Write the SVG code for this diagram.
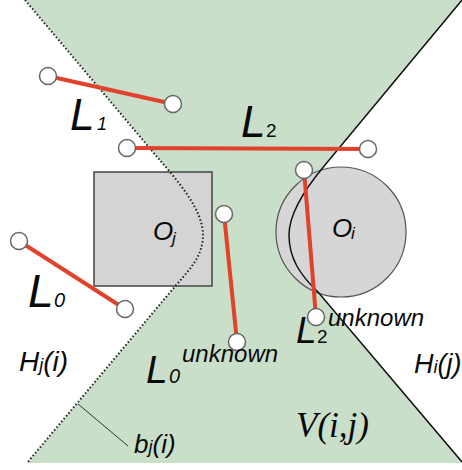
<svg xmlns="http://www.w3.org/2000/svg" width="462" height="470" viewBox="0 0 462 470">
<defs>
<style>
.red{stroke:#e0422c;stroke-width:4;stroke-linecap:round;fill:none}
.pt{fill:#fff;stroke:#666;stroke-width:1.5}
.t{font-family:"Liberation Sans",Arial,sans-serif;font-style:italic;fill:#0a0a0a}
.u{font-family:"Liberation Sans",Arial,sans-serif;fill:#0a0a0a}
.s{font-family:"Liberation Serif","Times New Roman",serif;font-style:italic;fill:#0a0a0a}
</style>
</defs>
<rect width="462" height="470" fill="#fff"/>
<g id="region">
<path d="M25,0 L158,158 C178,181 203,210 203,235 C203,258 187,272 172,290 L27,463 L462,463 L462,462 L318,292 C300,275 289,258 289,235 C289,212 309,184 325,165 L462,0 Z" fill="#cadfc9"/>
</g>
<g id="Oj">
<rect x="94" y="172" width="118" height="114" fill="#d4d4d4" stroke="#444" stroke-width="1.5"/>
<text class="t" x="153" y="240" font-size="26">O</text><text class="t" x="172" y="244" font-size="17">j</text>
</g>
<g id="Oi">
<circle cx="341" cy="232" r="65" fill="#d6d6d6" stroke="#555" stroke-width="1.2"/>
<text class="t" x="332" y="237" font-size="26">O</text><text class="t" x="351" y="239" font-size="17">i</text>
</g>
<g id="boundaries">
<path d="M25,0 L158,158 C178,181 203,210 203,235 C203,258 187,272 172,290 L27,463" fill="none" stroke="#222" stroke-width="2" stroke-dasharray="1.5 2.2"/>
<path d="M462,0 L325,165 C309,184 289,212 289,235 C289,258 300,275 318,292 L462,462" fill="none" stroke="#111" stroke-width="1.5"/>
<line x1="78" y1="404" x2="128" y2="446" stroke="#333" stroke-width="1"/>
</g>
<g id="connectors">
<line class="red" x1="48" y1="76" x2="173" y2="104"/>
<line class="red" x1="127" y1="148" x2="368" y2="149"/>
<line class="red" x1="19" y1="241" x2="125" y2="309"/>
<line class="red" x1="224" y1="214" x2="237" y2="342"/>
<line class="red" x1="304" y1="170" x2="316" y2="317"/>
</g>
<g id="points">
<circle class="pt" cx="48" cy="76" r="8.5"/>
<circle class="pt" cx="173" cy="104" r="8.5"/>
<circle class="pt" cx="127" cy="148" r="8.5"/>
<circle class="pt" cx="368" cy="149" r="8.5"/>
<circle class="pt" cx="19" cy="241" r="8.5"/>
<circle class="pt" cx="125" cy="309" r="8.5"/>
<circle class="pt" cx="224" cy="214" r="8.5"/>
<circle class="pt" cx="237" cy="342" r="8.5"/>
<circle class="pt" cx="304" cy="170" r="8.5"/>
<circle class="pt" cx="316" cy="317" r="8.5"/>
</g>
<g id="L1"><text class="t" x="70" y="130" font-size="44">L</text><text class="t" x="97" y="130" font-size="18">1</text></g>
<g id="L2"><text class="t" x="241" y="137" font-size="44">L</text><text class="u" x="266" y="137" font-size="19">2</text></g>
<g id="L0"><text class="t" x="28" y="307" font-size="46">L</text><text class="t" x="54" y="307" font-size="20">0</text></g>
<g id="L0u"><text class="t" x="146" y="383" font-size="39">L</text><text class="t" x="169" y="383" font-size="20">0</text><text class="t" x="182" y="362" font-size="24">unknown</text></g>
<g id="L2u"><text class="t" x="296" y="343" font-size="37">L</text><text class="u" x="317" y="343" font-size="19">2</text><text class="t" x="328" y="326" font-size="24">unknown</text></g>
<g id="Hj"><text class="t" x="19" y="371" font-size="28">H<tspan font-size="18">j</tspan>(i)</text></g>
<g id="Hi"><text class="t" x="414" y="373" font-size="27">H<tspan font-size="18">i</tspan>(j)</text></g>
<g id="bj"><text class="t" x="134" y="453" font-size="26">b<tspan font-size="18">j</tspan>(i)</text></g>
<g id="V"><text class="s" x="296" y="437" font-size="35">V(i,j)</text></g>
</svg>
